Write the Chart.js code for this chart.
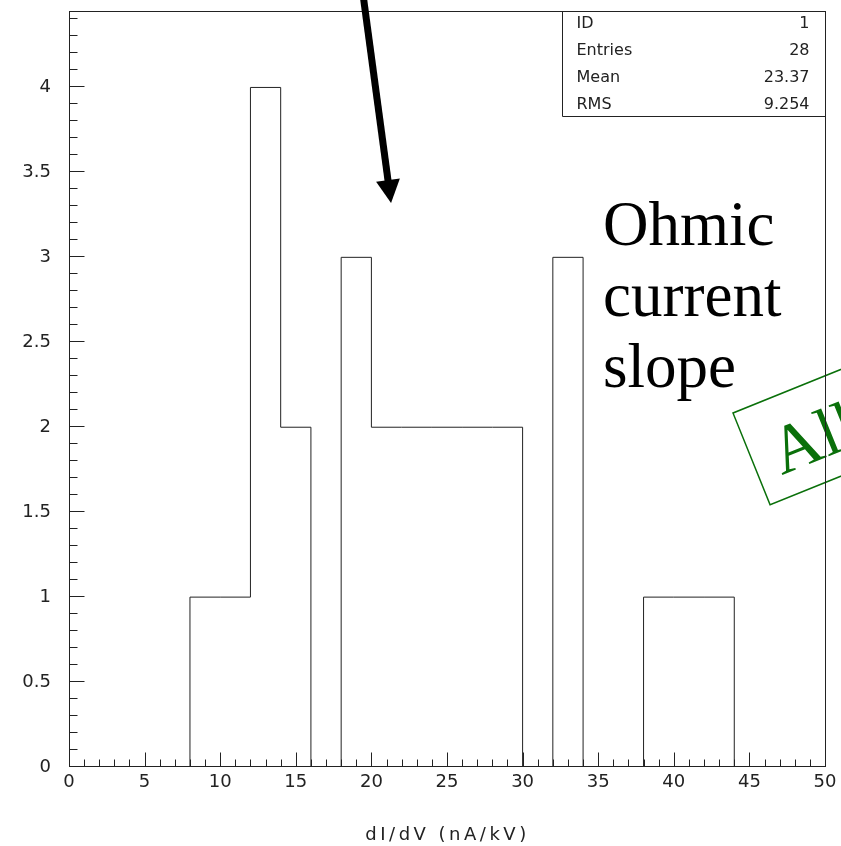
<!DOCTYPE html>
<html>
<head>
<meta charset="utf-8">
<title>dI/dV</title>
<script src="https://cdn.jsdelivr.net/npm/chart.js@4.4.0/dist/chart.umd.min.js"></script>
<style>
  html, body { margin: 0; padding: 0; background: #fff; }
  canvas { display: block; }
</style>
</head>
<body>
<canvas id="histo" width="841" height="846"></canvas>
<script>
// histogram bins, 2 nA/kV wide, from 0 to 50
const binEdges = [0, 2, 4, 6, 8, 10, 12, 14, 16, 18, 20, 22, 24, 26, 28, 30, 32, 34, 36, 38, 40, 42, 44, 46, 48, 50];
const binCounts = [0, 0, 0, 0, 1, 1, 4, 2, 0, 3, 2, 2, 2, 2, 2, 0, 3, 0, 0, 1, 1, 1, 0, 0, 0];

// stats box
const statNames = ['ID', 'Entries', 'Mean', 'RMS'];
const statValues = ['1', '28', '23.37', '9.254'];

const noteLines = ['Ohmic', 'current', 'slope'];
const stampText = 'All';
const axisTitle = 'dI/dV (nA/kV)';

const ink = '#222';
const tickFont = { family: 'DejaVu Sans', size: 18 };

// one point per bin edge, last edge closes the outline
const outline = binEdges.map((x, i) => ({ x: x, y: i < binCounts.length ? binCounts[i] : 0 }));

const overlay = {
  id: 'overlay',
  afterDraw(chart) {
    const { ctx, chartArea: a, scales: { x, y } } = chart;
    const L = Math.round(a.left) + 0.5, R = Math.round(a.right) + 0.5;
    const T = Math.round(a.top) + 0.5, B = Math.round(a.bottom) - 0.5;
    ctx.save();

    // green stamp, runs off the right edge
    ctx.translate(733, 413);
    ctx.rotate(-22 * Math.PI / 180);
    ctx.strokeStyle = '#0a700a';
    ctx.lineWidth = 1.5;
    ctx.strokeRect(0, 0, 320, 99);
    ctx.fillStyle = '#0a700a';
    ctx.font = '68px "Liberation Serif"';
    ctx.textBaseline = 'alphabetic';
    ctx.fillText(stampText, 22, 76);
    ctx.setTransform(1, 0, 0, 1, 0, 0);

    // frame
    ctx.strokeStyle = ink;
    ctx.lineWidth = 1;
    ctx.strokeRect(L, T, R - L, B - T);

    // inward ticks: majors every 0.5 / 5, minors between
    ctx.beginPath();
    for (let i = 0; i <= Math.floor(y.max * 10 + 1e-6); i++) {
      const py = Math.round(y.getPixelForValue(i / 10)) - 0.5;
      ctx.moveTo(L, py);
      ctx.lineTo(L + (i % 5 === 0 ? 15 : 8), py);
    }
    for (let i = 0; i <= x.max; i++) {
      const px = Math.round(x.getPixelForValue(i)) + 0.5;
      ctx.moveTo(px, B);
      ctx.lineTo(px, B - (i % 5 === 0 ? 14 : 7));
    }
    ctx.stroke();

    // stats box
    const bx = Math.round(R - 264) + 0.5, bh = 105;
    ctx.beginPath();
    ctx.moveTo(bx, T);
    ctx.lineTo(bx, T + bh);
    ctx.lineTo(R, T + bh);
    ctx.stroke();
    ctx.fillStyle = ink;
    ctx.font = '16px "DejaVu Sans"';
    ctx.textBaseline = 'middle';
    statNames.forEach((name, i) => {
      const ty = T + 12 + i * 27;
      ctx.textAlign = 'left';
      ctx.fillText(name, bx + 14, ty);
      ctx.textAlign = 'right';
      ctx.fillText(statValues[i], R - 16, ty);
    });

    // x axis title
    ctx.textAlign = 'center';
    ctx.font = '18px "DejaVu Sans"';
    ctx.letterSpacing = '3.5px';
    ctx.fillText(axisTitle, (L + R) / 2, 835);
    ctx.letterSpacing = '0px';

    // annotation text
    ctx.fillStyle = '#000';
    ctx.textAlign = 'left';
    ctx.textBaseline = 'alphabetic';
    ctx.font = '63px "Liberation Serif"';
    noteLines.forEach((line, i) => ctx.fillText(line, 603, 245 + i * 71));

    // arrow pointing into the 20-30 plateau
    const tx = x.getPixelForValue(21.3), ty = y.getPixelForValue(3.32);
    const sx = x.getPixelForValue(19.45), sy = -5;
    const len = Math.hypot(tx - sx, ty - sy);
    const ux = (tx - sx) / len, uy = (ty - sy) / len;
    const hx = tx - 23 * ux, hy = ty - 23 * uy;
    ctx.strokeStyle = '#000';
    ctx.lineWidth = 7;
    ctx.beginPath();
    ctx.moveTo(sx, sy);
    ctx.lineTo(hx + 2 * ux, hy + 2 * uy);
    ctx.stroke();
    ctx.fillStyle = '#000';
    ctx.beginPath();
    ctx.moveTo(tx, ty);
    ctx.lineTo(hx - 12 * uy, hy + 12 * ux);
    ctx.lineTo(hx + 12 * uy, hy - 12 * ux);
    ctx.closePath();
    ctx.fill();

    ctx.restore();
  }
};

// drop the label overhang padding so the plot box is set by layout.padding alone
function fixX(s) {
  s.height = 79;
  s.paddingLeft = 0;
  s.paddingRight = 0;
}
function fixY(s) {
  s.width = 69;
  s.paddingTop = 0;
  s.paddingBottom = 0;
}

new Chart(document.getElementById('histo'), {
  type: 'line',
  data: {
    datasets: [{
      data: outline,
      stepped: true,
      borderColor: ink,
      borderWidth: 1,
      pointRadius: 0,
      fill: false
    }]
  },
  options: {
    responsive: false,
    animation: false,
    layout: { padding: { top: 11, right: 16, left: 0, bottom: 0 } },
    plugins: {
      legend: { display: false },
      tooltip: { enabled: false }
    },
    scales: {
      x: {
        type: 'linear',
        min: 0,
        max: 50,
        afterFit: fixX,
        grid: { display: false, drawTicks: false },
        border: { display: false },
        ticks: {
          stepSize: 5,
          padding: 5,
          color: ink,
          font: tickFont,
          maxRotation: 0
        }
      },
      y: {
        min: 0,
        max: 4.45,
        afterFit: fixY,
        grid: { display: false, drawTicks: false },
        border: { display: false },
        ticks: {
          stepSize: 0.5,
          includeBounds: false,
          padding: 18,
          color: ink,
          font: tickFont,
          callback: v => String(Math.round(v * 10) / 10)
        }
      }
    }
  },
  plugins: [overlay]
});
</script>
</body>
</html>
